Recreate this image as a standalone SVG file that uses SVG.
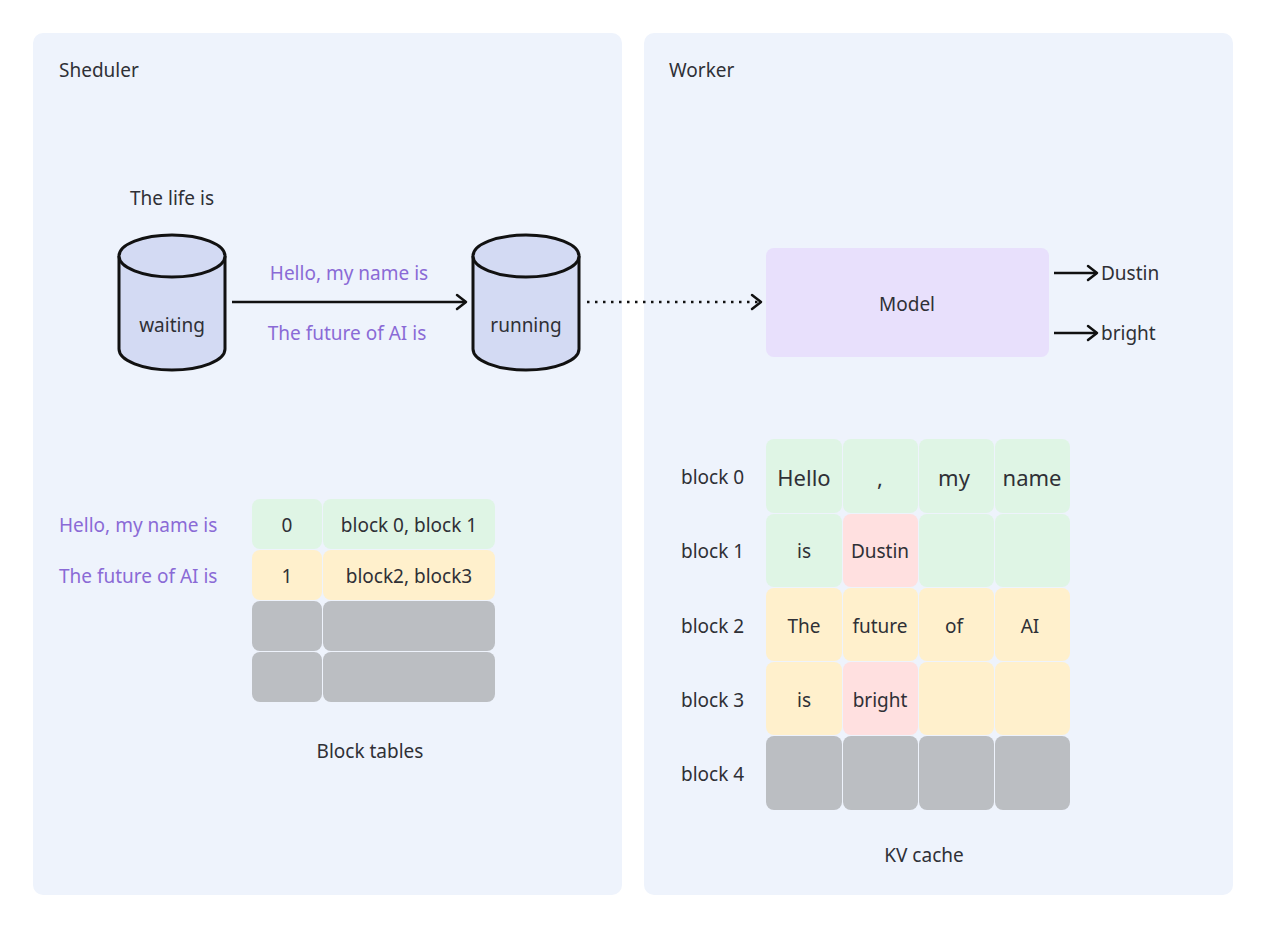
<svg xmlns="http://www.w3.org/2000/svg" width="1267" height="929" viewBox="0 0 1267 929">
<defs>
<style>
text{font-family:"Source Sans Pro","Noto Sans","Open Sans",sans-serif;font-size:19px;fill:#2f3036;dominant-baseline:central}
.c{text-anchor:middle}
.p{fill:#8a6ad6}
.panel{fill:#eef3fc}
.cyl{fill:#d3daf3;stroke:#111;stroke-width:3}
.g{fill:#dff5e5}
.y{fill:#fff0cc}
.r{fill:#ffe0e0}
.k{fill:#bbbec2}
.big{font-size:22px}
</style>
<marker id="ah" markerWidth="14" markerHeight="18" refX="12" refY="9" orient="auto" markerUnits="userSpaceOnUse">
<path d="M3,2 L12,9 L3,16" fill="none" stroke="#111" stroke-width="2.5" stroke-linecap="round" stroke-linejoin="round"/>
</marker>
</defs>
<rect width="1267" height="929" fill="#fff"/>
<g id="scheduler">
<rect class="panel" x="33" y="33" width="589" height="862" rx="10"/>
<text x="59" y="70">Sheduler</text>
</g>
<g id="worker">
<rect class="panel" x="644" y="33" width="589" height="862" rx="10"/>
<text x="669" y="70">Worker</text>
</g>
<g id="life"><text class="c" x="172" y="198">The life is</text></g>
<g id="waiting">
<path class="cyl" d="M119,256 L119,349 A53,21 0 0 0 225,349 L225,256"/>
<ellipse class="cyl" cx="172" cy="256" rx="53" ry="21"/>
<text class="c" x="172" y="325">waiting</text>
</g>
<g id="running">
<path class="cyl" d="M473,256 L473,349 A53,21 0 0 0 579,349 L579,256"/>
<ellipse class="cyl" cx="526" cy="256" rx="53" ry="21"/>
<text class="c" x="526" y="325">running</text>
</g>
<g id="model">
<rect x="766" y="248" width="283" height="109" rx="8" fill="#e8e0fc"/>
<text class="c" x="907" y="304">Model</text>
</g>
<g id="connectors" stroke="#111" fill="none">
<line x1="232" y1="302" x2="466" y2="302" stroke-width="2.5" marker-end="url(#ah)"/>
<line x1="587" y1="302" x2="761" y2="302" stroke-width="2.5" stroke-dasharray="2.5 5.5" marker-end="url(#ah)"/>
<line x1="1054" y1="273" x2="1097" y2="273" stroke-width="2.5" marker-end="url(#ah)"/>
<line x1="1054" y1="333" x2="1097" y2="333" stroke-width="2.5" marker-end="url(#ah)"/>
</g>
<g id="labels">
<text class="c p" x="349" y="273">Hello, my name is</text>
<text class="c p" x="347" y="333">The future of AI is</text>
<text x="1101" y="273">Dustin</text>
<text x="1101" y="333">bright</text>
</g>
<g id="block-tables">
<text class="p" x="59" y="525">Hello, my name is</text>
<text class="p" x="59" y="576">The future of AI is</text>
<rect class="g" x="252" y="499" width="70" height="50" rx="8"/>
<rect class="g" x="323" y="499" width="172" height="50" rx="8"/>
<rect class="y" x="252" y="550" width="70" height="50" rx="8"/>
<rect class="y" x="323" y="550" width="172" height="50" rx="8"/>
<rect class="k" x="252" y="601" width="70" height="50" rx="8"/>
<rect class="k" x="323" y="601" width="172" height="50" rx="8"/>
<rect class="k" x="252" y="652" width="70" height="50" rx="8"/>
<rect class="k" x="323" y="652" width="172" height="50" rx="8"/>
<text class="c" x="287" y="525">0</text>
<text class="c" x="409" y="525">block 0, block 1</text>
<text class="c" x="287" y="576">1</text>
<text class="c" x="409" y="576">block2, block3</text>
<text class="c" x="370" y="751">Block tables</text>
</g>
<g id="kv-cache">
<text x="681" y="477">block 0</text>
<text x="681" y="551">block 1</text>
<text x="681" y="626">block 2</text>
<text x="681" y="700">block 3</text>
<text x="681" y="774">block 4</text>
<rect class="g" x="766" y="439" width="76" height="74" rx="8"/>
<rect class="g" x="843" y="439" width="75" height="74" rx="8"/>
<rect class="g" x="919" y="439" width="75" height="74" rx="8"/>
<rect class="g" x="995" y="439" width="75" height="74" rx="8"/>
<rect class="g" x="766" y="514" width="76" height="73" rx="8"/>
<rect class="r" x="843" y="514" width="75" height="73" rx="8"/>
<rect class="g" x="919" y="514" width="75" height="73" rx="8"/>
<rect class="g" x="995" y="514" width="75" height="73" rx="8"/>
<rect class="y" x="766" y="588" width="76" height="73" rx="8"/>
<rect class="y" x="843" y="588" width="75" height="73" rx="8"/>
<rect class="y" x="919" y="588" width="75" height="73" rx="8"/>
<rect class="y" x="995" y="588" width="75" height="73" rx="8"/>
<rect class="y" x="766" y="662" width="76" height="73" rx="8"/>
<rect class="r" x="843" y="662" width="75" height="73" rx="8"/>
<rect class="y" x="919" y="662" width="75" height="73" rx="8"/>
<rect class="y" x="995" y="662" width="75" height="73" rx="8"/>
<rect class="k" x="766" y="736" width="76" height="74" rx="8"/>
<rect class="k" x="843" y="736" width="75" height="74" rx="8"/>
<rect class="k" x="919" y="736" width="75" height="74" rx="8"/>
<rect class="k" x="995" y="736" width="75" height="74" rx="8"/>
<text class="c big" x="804" y="477">Hello</text>
<text class="c big" x="880" y="477">,</text>
<text class="c big" x="954" y="477">my</text>
<text class="c big" x="1032" y="477">name</text>
<text class="c" x="804" y="551">is</text>
<text class="c" x="880" y="551">Dustin</text>
<text class="c" x="804" y="626">The</text>
<text class="c" x="880" y="626">future</text>
<text class="c" x="954" y="626">of</text>
<text class="c" x="1030" y="626">AI</text>
<text class="c" x="804" y="700">is</text>
<text class="c" x="880" y="700">bright</text>
<text class="c" x="924" y="855">KV cache</text>
</g>
</svg>
